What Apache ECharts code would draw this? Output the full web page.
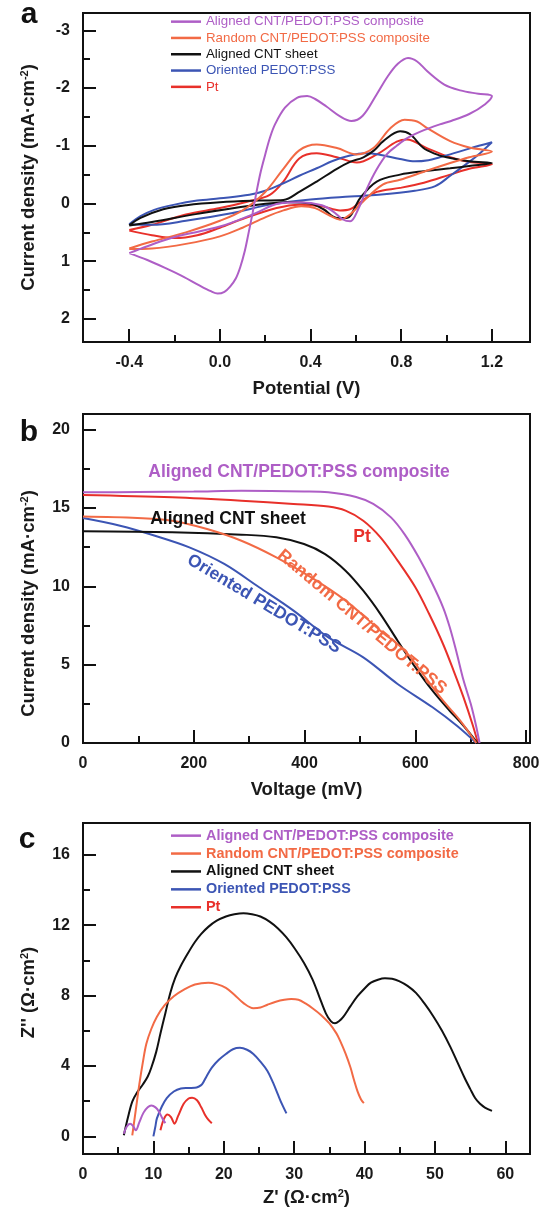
<!DOCTYPE html>
<html lang="en">
<head>
  <meta charset="utf-8" />
</head>
<body style="margin: 0; background: #fff">
  <div id="container" style="width: 541px; height: 1215px"></div>
  <script src="https://cdn.jsdelivr.net/npm/echarts@6/dist/echarts.min.js"></script>
  <script>
    // series names and colours (same five samples in every panel)
    var names = ['Aligned CNT/PEDOT:PSS composite', 'Random CNT/PEDOT:PSS composite', 'Aligned CNT sheet', 'Oriented PEDOT:PSS', 'Pt'];
    var colors = ['#AE5EC6', '#F26A45', '#111111', '#3C55B4', '#E8302A'];

    // (a) cyclic voltammograms: [potential V, current density mA/cm2]
    var cvAligned = [[-0.4, 0.86], [-0.32, 0.98], [-0.24, 1.12], [-0.16, 1.27], [-0.095, 1.41], [-0.04, 1.52], [-0.01, 1.56], [0.02, 1.53], [0.045, 1.44], [0.07, 1.3], [0.09, 1.1], [0.11, 0.82], [0.125, 0.54], [0.145, 0.15], [0.162, -0.21], [0.18, -0.55], [0.2, -0.85], [0.22, -1.13], [0.243, -1.37], [0.287, -1.66], [0.34, -1.83], [0.385, -1.86], [0.42, -1.81], [0.47, -1.68], [0.53, -1.51], [0.58, -1.43], [0.63, -1.52], [0.69, -1.88], [0.74, -2.2], [0.785, -2.42], [0.83, -2.52], [0.87, -2.46], [0.915, -2.29], [0.99, -2.06], [1.06, -1.96], [1.14, -1.9], [1.2, -1.86],
      [1.17, -1.72], [1.1, -1.55], [1.02, -1.43], [0.97, -1.37], [0.9, -1.27], [0.83, -1.14], [0.78, -1.0], [0.736, -0.85], [0.69, -0.58], [0.65, -0.27], [0.61, 0.1], [0.575, 0.31], [0.54, 0.27], [0.5, 0.14], [0.45, 0.03], [0.35, -0.02], [0.26, 0.0], [0.15, 0.18], [0.0, 0.4], [-0.2, 0.58], [-0.32, 0.74], [-0.4, 0.86]];
    var cvRandom = [[-0.4, 0.78], [-0.3, 0.66], [-0.15, 0.5], [0.0, 0.3], [0.1, 0.12], [0.2, -0.2], [0.28, -0.6], [0.35, -0.92], [0.427, -1.02], [0.516, -0.96], [0.604, -0.85], [0.677, -0.96], [0.751, -1.3], [0.815, -1.45], [0.87, -1.42], [0.913, -1.31], [1.016, -1.08], [1.1, -0.97], [1.2, -0.9],
      [1.1, -0.8], [1.016, -0.7], [0.9, -0.55], [0.795, -0.41], [0.72, -0.33], [0.633, -0.04], [0.574, 0.19], [0.53, 0.28], [0.48, 0.2], [0.42, 0.08], [0.36, 0.05], [0.28, 0.12], [0.2, 0.24], [0.1, 0.42], [0.0, 0.57], [-0.15, 0.7], [-0.3, 0.78], [-0.4, 0.79]];
    var cvSheet = [[-0.4, 0.38], [-0.35, 0.25], [-0.25, 0.1], [-0.147, 0.03], [0.0, -0.02], [0.177, -0.05], [0.28, -0.06], [0.354, -0.21], [0.427, -0.38], [0.516, -0.6], [0.574, -0.72], [0.633, -0.8], [0.68, -0.92], [0.721, -1.08], [0.795, -1.25], [0.839, -1.2], [0.898, -0.96], [0.95, -0.86], [1.0, -0.8], [1.1, -0.73], [1.2, -0.7],
      [1.1, -0.65], [1.016, -0.61], [0.9, -0.56], [0.795, -0.5], [0.692, -0.38], [0.618, -0.09], [0.56, 0.25], [0.516, 0.25], [0.457, 0.1], [0.398, 0.0], [0.3, -0.02], [0.133, 0.04], [-0.1, 0.18], [-0.3, 0.32], [-0.4, 0.38]];
    var cvPedot = [[-0.4, 0.36], [-0.35, 0.22], [-0.29, 0.11], [-0.2, 0.02], [-0.1, -0.05], [0.0, -0.09], [0.13, -0.15], [0.2, -0.22], [0.28, -0.35], [0.35, -0.48], [0.427, -0.61], [0.5, -0.74], [0.574, -0.83], [0.64, -0.87], [0.7, -0.85], [0.795, -0.77], [0.86, -0.73], [0.92, -0.75], [0.97, -0.8], [1.016, -0.85], [1.1, -0.95], [1.2, -1.06],
      [1.15, -0.88], [1.1, -0.72], [1.016, -0.48], [0.95, -0.3], [0.86, -0.22], [0.7, -0.15], [0.574, -0.12], [0.4, -0.07], [0.22, 0.02], [0.05, 0.17], [-0.15, 0.3], [-0.3, 0.37], [-0.4, 0.36]];
    var cvPt = [[-0.4, 0.46], [-0.3, 0.37], [-0.15, 0.19], [0.0, 0.08], [0.12, -0.03], [0.22, -0.15], [0.28, -0.38], [0.35, -0.78], [0.427, -0.87], [0.516, -0.8], [0.604, -0.71], [0.692, -0.85], [0.78, -1.07], [0.825, -1.11], [0.913, -0.96], [1.016, -0.8], [1.1, -0.72], [1.2, -0.68],
      [1.1, -0.6], [1.016, -0.5], [0.9, -0.36], [0.795, -0.27], [0.692, -0.2], [0.618, -0.02], [0.574, 0.1], [0.53, 0.12], [0.45, 0.05], [0.35, 0.02], [0.25, 0.08], [0.1, 0.27], [0.0, 0.42], [-0.1, 0.55], [-0.2, 0.6], [-0.3, 0.55], [-0.4, 0.47]];

    // (b) J-V curves: [voltage mV, current density mA/cm2]
    var jvAligned = [[0, 16.0], [100, 16.02], [200, 16.05], [286, 16.1], [399, 16.06], [443, 16.0], [493, 15.7], [524, 15.26], [556, 14.4], [581, 13.3], [606, 11.85], [631, 10.15], [650, 8.66], [662, 7.4], [675, 5.7], [687, 4.0], [700, 2.5], [709, 1.2], [716, 0]];
    var jvRandom = [[0, 14.45], [98, 14.36], [161, 14.19], [224, 13.66], [286, 12.91], [349, 11.85], [412, 10.57], [474, 9.09], [537, 7.17], [581, 5.89], [618, 4.19], [650, 2.7], [681, 1.43], [710, 0]];
    var jvSheet = [[0, 13.51], [161, 13.45], [286, 13.3], [349, 13.13], [399, 12.7], [437, 12.06], [474, 11.0], [506, 9.72], [537, 8.23], [568, 6.53], [600, 4.83], [631, 3.34], [662, 2.06], [687, 1.1], [712, 0]];
    var jvPedot = [[0, 14.36], [67, 13.87], [130, 13.23], [192, 12.49], [255, 11.43], [318, 9.94], [380, 8.45], [443, 6.74], [506, 5.47], [568, 3.77], [631, 2.28], [675, 1.1], [710, 0]];
    var jvPt = [[0, 15.83], [161, 15.68], [286, 15.47], [380, 15.26], [443, 15.09], [474, 14.83], [506, 14.19], [537, 13.13], [568, 11.64], [600, 9.94], [625, 8.23], [650, 6.32], [669, 4.62], [687, 2.91], [703, 1.21], [713, 0]];

    // (c) Nyquist plots: [Z' ohm cm2, Z'' ohm cm2]
    var eisAligned = [[5.8, 0.15], [6.2, 0.55], [6.7, 0.72], [7.1, 0.6], [7.5, 0.35], [8.0, 0.8], [8.6, 1.35], [9.2, 1.65], [9.7, 1.75], [10.3, 1.65], [10.8, 1.4], [11.3, 1.0], [11.7, 0.75]];
    var eisRandom = [[7.0, 0.06], [7.5, 1.5], [8.0, 2.95], [8.5, 4.2], [9.0, 5.26], [9.7, 6.1], [10.5, 6.8], [11.6, 7.45], [12.9, 7.96], [14.4, 8.35], [15.9, 8.63], [17.8, 8.73], [19.0, 8.65], [20.3, 8.44], [21.5, 8.05], [22.8, 7.57], [24.2, 7.28], [25.2, 7.32], [26.2, 7.48], [27.4, 7.65], [28.6, 7.76], [29.6, 7.8], [30.6, 7.76], [31.6, 7.55], [32.6, 7.28], [33.8, 6.9], [35.0, 6.42], [36.0, 5.85], [36.5, 5.45], [37.3, 4.7], [38.0, 3.91], [38.5, 3.2], [39.0, 2.56], [39.5, 2.1], [39.9, 1.89]];
    var eisSheet = [[5.8, 0.06], [6.4, 1.1], [7.0, 1.98], [7.7, 2.5], [8.5, 2.95], [9.2, 3.4], [9.7, 3.9], [10.4, 4.8], [11.0, 5.84], [11.7, 7.0], [12.4, 8.15], [13.1, 9.0], [13.9, 9.69], [14.9, 10.4], [15.9, 11.04], [16.8, 11.5], [17.8, 11.9], [19.0, 12.25], [20.3, 12.49], [21.5, 12.62], [22.8, 12.68], [24.0, 12.62], [25.2, 12.49], [26.5, 12.2], [27.7, 11.81], [28.9, 11.3], [30.1, 10.66], [31.4, 9.85], [32.6, 8.92], [33.6, 7.9], [34.5, 6.99], [35.2, 6.55], [35.8, 6.42], [36.4, 6.55], [37.0, 6.8], [38.0, 7.4], [39.0, 7.96], [40.0, 8.4], [40.9, 8.73], [41.9, 8.9], [42.9, 8.98], [43.9, 8.95], [44.9, 8.82], [46.1, 8.55], [47.3, 8.15], [48.5, 7.55], [49.8, 6.8], [51.0, 6.0], [52.2, 5.07], [53.2, 4.2], [54.2, 3.33], [55.0, 2.7], [55.7, 2.18], [56.4, 1.85], [57.1, 1.64], [58.1, 1.45]];
    var eisPedot = [[10.0, 0.0], [10.3, 0.6], [10.5, 1.02], [11.2, 1.7], [11.9, 2.18], [12.9, 2.55], [13.9, 2.72], [14.9, 2.75], [15.9, 2.76], [16.4, 2.82], [16.9, 2.95], [17.6, 3.45], [18.3, 3.91], [19.3, 4.35], [20.3, 4.68], [21.3, 4.95], [22.3, 5.03], [23.3, 4.92], [24.2, 4.68], [25.2, 4.25], [26.2, 3.72], [27.0, 3.05], [27.7, 2.37], [28.3, 1.8], [28.9, 1.31]];
    var eisPt = [[11.0, 0.35], [11.5, 1.0], [12.0, 1.25], [12.5, 1.1], [13.0, 0.72], [13.5, 1.15], [14.3, 1.85], [15.0, 2.15], [15.5, 2.2], [16.2, 2.05], [16.8, 1.65], [17.3, 1.25], [17.8, 0.95], [18.3, 0.75]];

    // tick values
    var ticksAx = [-0.4, 0, 0.4, 0.8, 1.2], minorAx = [-0.2, 0.2, 0.6, 1.0];
    var ticksAy = [-3, -2, -1, 0, 1, 2], minorAy = [-2.5, -1.5, -0.5, 0.5, 1.5];
    var ticksBx = [0, 200, 400, 600, 800], minorBx = [100, 300, 500, 700];
    var ticksBy = [0, 5, 10, 15, 20], minorBy = [2.5, 7.5, 12.5, 17.5];
    var ticksCx = [0, 10, 20, 30, 40, 50, 60], minorCx = [5, 15, 25, 35, 45, 55];
    var ticksCy = [0, 4, 8, 12, 16], minorCy = [2, 6, 10, 14];

    var FONT = "'Liberation Sans', Arial, sans-serif";
    var tickLine = { color: '#111', width: 2 };
    function nameStyle(pad) {
      return {
        fontFamily: FONT, fontSize: 18.5, fontWeight: 'bold', color: '#1a1a1a', padding: pad || 0,
        rich: { sup: { fontFamily: FONT, fontSize: 11, fontWeight: 'bold', color: '#1a1a1a', verticalAlign: 'top' } }
      };
    }

    // major axis (labels + long ticks) and a twin axis carrying only the short minor ticks
    function axisPair(grid, pos, min, max, majors, minors, opts) {
      var main = {
        type: 'value', gridIndex: grid, position: pos, min: min, max: max, inverse: !!opts.inverse,
        axisLine: { show: false, onZero: false },
        splitLine: { show: false },
        axisTick: { show: true, inside: true, length: 13, customValues: majors, lineStyle: tickLine },
        axisLabel: {
          customValues: majors, margin: 13, color: '#1a1a1a', fontFamily: FONT, fontSize: 16, fontWeight: 'bold',
          formatter: opts.fmt || function (v) { return String(v); }
        },
        name: opts.name, nameLocation: 'middle', nameGap: opts.gap, nameRotate: pos === 'left' ? 90 : 0,
        nameTextStyle: nameStyle(opts.pad)
      };
      var minor = {
        type: 'value', gridIndex: grid, position: pos, min: min, max: max, inverse: !!opts.inverse,
        axisLine: { show: false, onZero: false },
        splitLine: { show: false },
        axisLabel: { show: false },
        axisTick: { show: true, inside: true, length: 7, customValues: minors, lineStyle: tickLine }
      };
      return [main, minor];
    }

    var xAxes = [].concat(
      axisPair(0, 'bottom', -0.604, 1.368, ticksAx, minorAx, { name: 'Potential (V)', gap: 37, fmt: function (v) { return v.toFixed(1); } }),
      axisPair(1, 'bottom', 0, 807, ticksBx, minorBx, { name: 'Voltage (mV)', gap: 37 }),
      axisPair(2, 'bottom', 0, 63.5, ticksCx, minorCx, { name: "Z' (Ω·cm{sup|2})", gap: 34 })
    );
    var yAxes = [].concat(
      axisPair(0, 'left', -3.3, 2.4, ticksAy, minorAy, { inverse: true, name: 'Current density (mA·cm{sup|-2})', gap: 45 }),
      axisPair(1, 'left', 0, 21, ticksBy, minorBy, { name: 'Current density (mA·cm{sup|-2})', gap: 45, pad: [0, 50, 0, 0] }),
      axisPair(2, 'left', -1, 17.8, ticksCy, minorCy, { name: "Z'' (Ω·cm{sup|2})", gap: 45, pad: [0, 8, 0, 0] })
    );

    var panelData = [
      [cvAligned, cvRandom, cvSheet, cvPedot, cvPt],
      [jvAligned, jvRandom, jvSheet, jvPedot, jvPt],
      [eisAligned, eisRandom, eisSheet, eisPedot, eisPt]
    ];
    var series = [];
    panelData.forEach(function (sets, p) {
      sets.forEach(function (d, i) {
        series.push({
          name: names[i], type: 'line', xAxisIndex: p * 2, yAxisIndex: p * 2,
          data: d, showSymbol: false, symbol: 'none', smooth: 0.35,
          itemStyle: { color: colors[i] },
          lineStyle: { color: colors[i], width: 2 },
          z: 10 - i
        });
      });
    });

    function legendAt(top, size, weight, lh) {
      return {
        orient: 'vertical', left: 171, top: top, padding: 0, itemGap: 0, icon: 'rect', itemWidth: 30, itemHeight: 2.5,
        selectedMode: false,
        textStyle: { fontFamily: FONT, fontSize: size, fontWeight: weight, lineHeight: lh },
        data: names.map(function (n, i) { return { name: n, textStyle: { color: colors[i] } }; })
      };
    }

    function label(text, x, y, color, size, deg) {
      return {
        type: 'text', x: x, y: y, rotation: -(deg || 0) * Math.PI / 180, z: 100,
        style: { text: text, fill: color, fontFamily: FONT, fontSize: size, fontWeight: 'bold', align: 'center', verticalAlign: 'middle' }
      };
    }

    var option = {
      animation: false,
      backgroundColor: '#fff',
      grid: [
        { left: 83, top: 13, width: 447, height: 329, show: true, borderColor: '#111', borderWidth: 2, outerBoundsMode: 'none' },
        { left: 83, top: 414, width: 447, height: 329, show: true, borderColor: '#111', borderWidth: 2, outerBoundsMode: 'none' },
        { left: 83, top: 823, width: 447, height: 331, show: true, borderColor: '#111', borderWidth: 2, outerBoundsMode: 'none' }
      ],
      xAxis: xAxes,
      yAxis: yAxes,
      legend: [legendAt(13.5, 13.3, 'normal', 16.3), legendAt(826.7, 14.4, 'bold', 17.9)],
      graphic: [
        label('a', 29, 15, '#111', 30, 0),
        label('b', 29, 433, '#111', 30, 0),
        label('c', 27, 840, '#111', 30, 0),
        label('Aligned CNT/PEDOT:PSS composite', 299, 472, colors[0], 17.5, 0),
        label('Aligned CNT sheet', 228, 519, '#111', 17.5, 0),
        label('Pt', 362, 537, colors[4], 17.5, 0),
        label('Random CNT/PEDOT:PSS', 362, 622, colors[1], 17.5, 40),
        label('Oriented PEDOT:PSS', 264, 604, colors[3], 17.5, 31)
      ],
      series: series
    };

    var myChart = echarts.init(document.getElementById('container'), null, { renderer: 'canvas' });
    myChart.setOption(option);
  </script>
</body>
</html>
